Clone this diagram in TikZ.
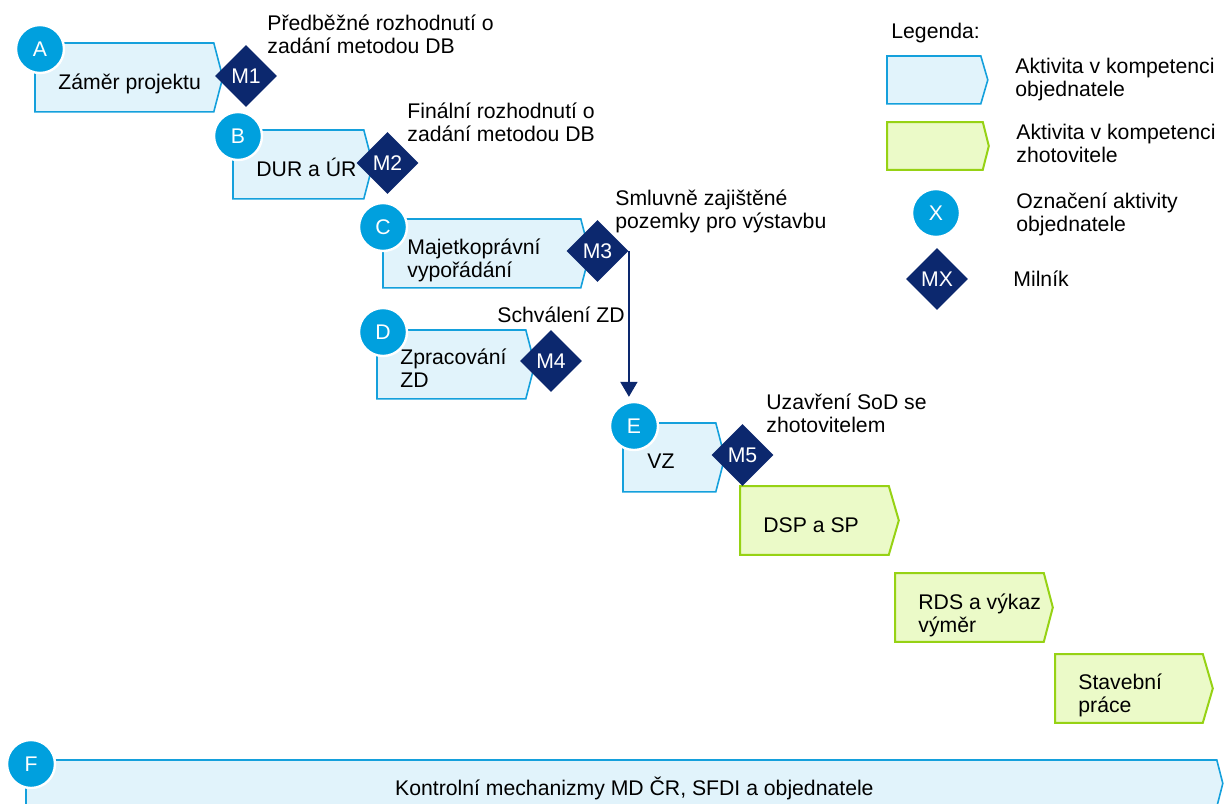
\documentclass[tikz,border=0pt]{standalone}
\usepackage{fontspec}
\setmainfont{Liberation Sans}
\usetikzlibrary{shapes.geometric,arrows.meta}

\definecolor{objfill}{RGB}{225,243,251}
\definecolor{objline}{RGB}{20,160,220}
\definecolor{zhofill}{RGB}{235,250,200}
\definecolor{zholine}{RGB}{150,210,20}
\definecolor{markblue}{RGB}{0,160,222}
\definecolor{milenavy}{RGB}{12,40,110}
\newcommand{\diafont}{\fontsize{10.6pt}{11.5pt}\selectfont}

\tikzstyle{body} = [rectangle, anchor=north west, inner sep=0pt, minimum height=34pt]
\tikzstyle{objact} = [draw=objline, fill=objfill, line width=0.8pt]
\tikzstyle{zhoact} = [draw=zholine, fill=zhofill, line width=1pt]

\begin{document}
\begin{tikzpicture}[x=0.5pt, y=-0.5pt,
			txt/.style = {anchor=base west, inner sep=0pt, align=left, font=\diafont},
			letter/.style = {circle, fill=markblue, draw=white, line width=1.2pt, minimum size=24pt, inner sep=0pt, text=white, font=\diafont},
			mile/.style = {diamond, aspect=1, fill=milenavy, minimum size=31pt, inner sep=0pt, text=white, font=\diafont},
			flow/.style = {-{Triangle[width=8.5pt,length=7.5pt]}, line width=1pt, draw=milenavy, shorten >=2pt}]
			\useasboundingbox (0,0) rectangle (1224,803);
			\clip (0,0) rectangle (1224,803);
			
			% activity bodies
			\node[body, minimum width=89pt] (A) at (35,43) {};
			\node[body, minimum width=65pt] (B) at (233,130) {};
			\node[body, minimum width=98.5pt] (C) at (383,219) {};
			\node[body, minimum width=74pt] (D) at (377,330) {};
			\node[body, minimum width=46pt] (E) at (623,423) {};
			\node[body, minimum width=595pt, minimum height=23pt] (F) at (26,760) {};
			\node[body, minimum width=74pt] (dsp) at (740,486) {};
			\node[body, minimum width=74pt] (rds) at (895,573) {};
			\node[body, minimum width=73.5pt] (stav) at (1055,654) {};
			\node[body, minimum width=46.5pt, minimum height=23.5pt] (legobj) at (887,56) {};
			\node[body, minimum width=47.5pt, minimum height=23.5pt] (legzho) at (887,122) {};
			
			\foreach \n/\t in {A/4.5pt, B/4.5pt, C/4.5pt, D/4.5pt, E/4.5pt, F/3pt, legobj/3.5pt}
			\draw[objact] (\n.north west) -- (\n.north east) -- ([xshift=\t]\n.east) -- (\n.south east) -- (\n.south west) -- cycle;
			\foreach \n/\t in {dsp/5pt, rds/4.5pt, stav/5pt, legzho/3pt}
			\draw[zhoact] (\n.north west) -- (\n.north east) -- ([xshift=\t]\n.east) -- (\n.south east) -- (\n.south west) -- cycle;
			
			% base = last line
			\node[txt] (tA) at ([xshift=11.5pt, yshift=-23pt]A.north west) {Záměr projektu};
			\node[txt] (tB) at ([xshift=11.5pt, yshift=-23pt]B.north west) {DUR a ÚR};
			\node[txt] (tC) at ([xshift=12pt, yshift=-29pt]C.north west) {Majetkoprávní\\vypořádání};
			\node[txt] (tD) at ([xshift=11.5pt, yshift=-28.5pt]D.north west) {Zpracování\\ZD};
			\node[txt] (tE) at ([xshift=12pt, yshift=-22.5pt]E.north west) {VZ};
			\node[txt] (tdsp) at ([xshift=11.5pt, yshift=-23pt]dsp.north west) {DSP a SP};
			\node[txt] (trds) at ([xshift=11.5pt, yshift=-29.5pt]rds.north west) {RDS a výkaz\\výměr};
			\node[txt] (tstav) at ([xshift=11.5pt, yshift=-29pt]stav.north west) {Stavební\\práce};
			\node[txt, anchor=base] (tF) at ([xshift=6.5pt, yshift=-6pt]F.center) {Kontrolní mechanizmy MD ČR, SFDI a objednatele};
			
			% activity letters
			\node[letter] (cA) at (40,49) {A};
			\node[letter] (cB) at (238,136) {B};
			\node[letter] (cC) at (383,227) {C};
			\node[letter] (cD) at (383,332) {D};
			\node[letter] (cE) at (634,426) {E};
			\node[letter] (cF) at (31,764) {F};
			
			% milestones
			\node[mile] (M1) at (246,76) {M1};
			\node[mile] (M2) at (387.5,163) {M2};
			\node[mile] (M3) at (597.5,251) {M3};
			\node[mile] (M4) at (551,361) {M4};
			\node[mile] (M5) at (742.5,455) {M5};
			
			\node[txt] (n1) at (267,53) {Předběžné rozhodnutí o\\zadání metodou DB};
			\node[txt] (n2) at (407,141) {Finální rozhodnutí o\\zadání metodou DB};
			\node[txt] (n3) at (615,228) {Smluvně zajištěné\\pozemky pro výstavbu};
			\node[txt] (n4) at (497,322) {Schválení ZD};
			\node[txt] (n5) at (766,432) {Uzavření SoD se\\zhotovitelem};
			
			\draw[flow] (M3.east) -- (M3.east |- cE.north);
			
			% legend
			\node[txt] (leg) at (891,39) {Legenda:};
			\node[txt] (lt1) at (1015,96) {Aktivita v kompetenci\\objednatele};
			\node[txt] (lt2) at (1016,162) {Aktivita v kompetenci\\zhotovitele};
			\node[letter] (cX) at (936,213) {X};
			\node[txt] (lt3) at (1016,231) {Označení aktivity\\objednatele};
			\node[mile] (MX) at (937,279) {MX};
			\node[txt] (lt4) at (1013,286) {Milník};
		\end{tikzpicture}
\end{document}
